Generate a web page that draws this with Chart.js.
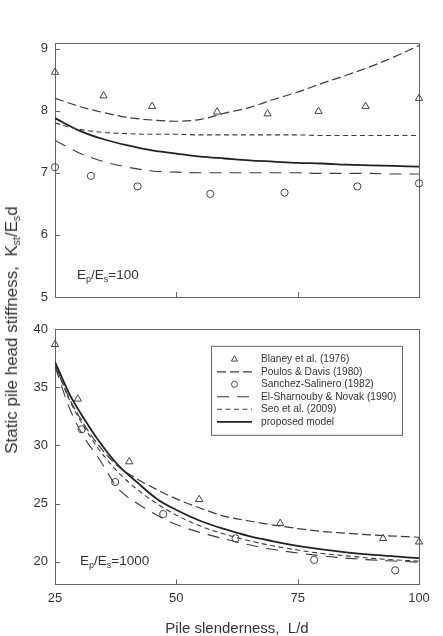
<!DOCTYPE html>
<html>
<head>
<meta charset="utf-8">
<script src="https://cdn.jsdelivr.net/npm/chart.js@4/dist/chart.umd.min.js"></script>
<style>
  html, body { margin:0; padding:0; background:#fff; }
  body { width:443px; height:636px; position:relative; overflow:hidden; font-family:"Liberation Sans", Arial, sans-serif; color:#333; }
  canvas { position:absolute; left:0; }
  #cTop { top:0; }
  #cBot { top:312px; }
  .lbl { position:absolute; font-size:13.5px; color:#333; white-space:nowrap; }
  .lbl sub { font-size:9px; vertical-align:-3px; line-height:0; }
  #ytitle { position:absolute; left:12px; top:330px; transform:translate(-50%,-50%) rotate(-90deg); font-size:17px; color:#333; white-space:nowrap; }
  #ytitle sub { font-size:10.5px; vertical-align:-3px; line-height:0; }
</style>
</head>
<body>
<canvas id="cTop" width="443" height="312"></canvas>
<canvas id="cBot" width="443" height="324"></canvas>
<div class="lbl" style="left:77px; top:267px;">E<sub>p</sub>/E<sub>s</sub>=100</div>
<div class="lbl" style="left:80px; top:553px;">E<sub>p</sub>/E<sub>s</sub>=1000</div>
<div id="ytitle">Static pile head stiffness,&nbsp; K<sub>st</sub>/E<sub>s</sub>d</div>
<script>
// ---------- data ----------
const xTicks = [25, 50, 75, 100];
const topYTicks = [5, 6, 7, 8, 9];
const botYTicks = [20, 25, 30, 35, 40];

const seriesLabels = ["Blaney et al. (1976)", "Poulos & Davis (1980)", "Sanchez-Salinero (1982)", "El-Sharnouby & Novak (1990)", "Seo et al. (2009)", "proposed model"];

// Ep/Es = 100
const topBlaneyX  = [25, 35, 45, 58.4, 68.8, 79.3, 89, 100];
const topBlaneyY  = [8.62, 8.24, 8.07, 7.98, 7.95, 7.99, 8.07, 8.20];
const topSanchezX = [25, 32.4, 42, 57, 72.3, 87.3, 100];
const topSanchezY = [7.09, 6.95, 6.78, 6.66, 6.68, 6.78, 6.83];
const topCurveX   = [25, 30, 35, 40, 45, 50, 55, 60, 65, 70, 75, 80, 85, 90, 95, 100];
const topPoulos   = [8.20, 8.07, 7.97, 7.89, 7.85, 7.83, 7.86, 7.96, 8.05, 8.18, 8.30, 8.44, 8.57, 8.71, 8.87, 9.05];
const topElSh     = [7.52, 7.32, 7.18, 7.09, 7.03, 7.01, 7.00, 7.00, 7.00, 7.00, 7.00, 6.99, 6.99, 6.99, 6.98, 6.98];
const topSeo      = [7.80, 7.70, 7.65, 7.63, 7.62, 7.62, 7.61, 7.61, 7.61, 7.61, 7.61, 7.60, 7.60, 7.60, 7.60, 7.60];
const topProposed = [7.88, 7.68, 7.54, 7.44, 7.36, 7.31, 7.26, 7.23, 7.20, 7.18, 7.16, 7.15, 7.13, 7.12, 7.11, 7.10];

// Ep/Es = 1000
const botBlaneyX  = [25, 29.7, 40.3, 54.7, 71.4, 92.6, 100];
const botBlaneyY  = [38.7, 34.0, 28.6, 25.35, 23.3, 22.0, 21.7];
const botSanchezX = [30.5, 37.4, 47.3, 62.2, 78.4, 95.1];
const botSanchezY = [31.4, 26.85, 24.1, 22.0, 20.15, 19.25];
const botCurveX   = [25, 28, 31, 34, 38, 42, 46, 50, 55, 60, 65, 70, 75, 80, 85, 90, 95, 100];
const botPoulos   = [36.9, 34.0, 31.8, 30.0, 28.2, 27.1, 26.2, 25.4, 24.6, 23.9, 23.5, 23.15, 22.85, 22.6, 22.45, 22.3, 22.2, 22.1];
const botElSh     = [36.8, 33.2, 30.7, 28.9, 26.3, 25.0, 24.0, 23.2, 22.5, 21.95, 21.45, 21.05, 20.75, 20.5, 20.3, 20.15, 20.05, 19.95];
const botSeo      = [37.0, 33.9, 31.6, 29.7, 27.7, 26.2, 25.0, 24.0, 23.05, 22.35, 21.8, 21.35, 21.0, 20.7, 20.5, 20.3, 20.15, 20.05];
const botProposed = [37.2, 34.4, 32.3, 30.4, 28.3, 26.8, 25.4, 24.45, 23.5, 22.8, 22.2, 21.75, 21.35, 21.05, 20.8, 20.6, 20.45, 20.3];

// ---------- helpers ----------
const zip = (xs, ys) => xs.map((x, i) => ({ x: x, y: ys[i] }));
const LINE = '#3a3a3a';
const styles = [
  { kind: 'pt', pointStyle: 'triangle', radius: 4.2 },
  { kind: 'ln', dash: [9, 4], width: 1.2 },
  { kind: 'pt', pointStyle: 'circle', radius: 3.6 },
  { kind: 'ln', dash: [12, 8], width: 1.1 },
  { kind: 'ln', dash: [5, 3.5], width: 1.1 },
  { kind: 'ln', dash: [], width: 1.8 }
];

function makeDatasets(sets) {
  return sets.map((d, i) => {
    const s = styles[i];
    if (s.kind === 'pt') {
      return { label: seriesLabels[i], data: d, showLine: false, clip: false,
        pointStyle: s.pointStyle, pointRadius: s.radius, pointBackgroundColor: 'rgba(255,255,255,0)',
        pointBorderColor: '#444', pointBorderWidth: 1, borderColor: '#444', order: 0 };
    }
    return { label: seriesLabels[i], data: d, showLine: true, pointRadius: 0,
      borderColor: i === 5 ? '#222' : LINE, borderWidth: s.width, borderDash: s.dash,
      cubicInterpolationMode: 'monotone', fill: false, order: 1 };
  });
}

const frame = {
  id: 'frame',
  beforeDatasetsDraw(chart) {
    const { ctx, chartArea: a, scales } = chart;
    ctx.save();
    ctx.strokeStyle = '#666';
    ctx.lineWidth = 1;
    ctx.strokeRect(Math.round(a.left) + 0.5, Math.round(a.top) + 0.5, Math.round(a.right - a.left), Math.round(a.bottom - a.top));
    ctx.beginPath();
    scales.x.ticks.forEach(t => {
      const p = Math.round(scales.x.getPixelForValue(t.value)) + 0.5;
      ctx.moveTo(p, a.bottom); ctx.lineTo(p, a.bottom - 5);
    });
    scales.y.ticks.forEach(t => {
      const p = Math.round(scales.y.getPixelForValue(t.value)) + 0.5;
      ctx.moveTo(a.left, p); ctx.lineTo(a.left + 5, p);
    });
    ctx.stroke();
    ctx.restore();
  }
};

const legendBox = {
  id: 'legendBox',
  afterDatasetsDraw(chart) {
    const { ctx, chartArea: a } = chart;
    const left = 211, top = a.top + 16.5, w = 191, h = 89;
    ctx.save();
    ctx.fillStyle = '#fff';
    ctx.fillRect(left, top, w, h);
    ctx.strokeStyle = '#666';
    ctx.lineWidth = 1;
    ctx.strokeRect(left + 0.5, top + 0.5, w, h);
    ctx.font = '10.2px "Liberation Sans", Arial, sans-serif';
    ctx.textBaseline = 'middle';
    chart.data.datasets.forEach((ds, i) => {
      const y = top + 13.5 + i * 12.5;
      const s = styles[i];
      ctx.strokeStyle = '#444';
      if (s.kind === 'pt') {
        ctx.lineWidth = 1;
        ctx.setLineDash([]);
        ctx.fillStyle = 'rgba(255,255,255,0)';
        Chart.helpers.drawPoint(ctx, { pointStyle: s.pointStyle, radius: s.radius - 0.6, borderWidth: 1, rotation: 0 }, 234.5, y);
      } else {
        ctx.lineWidth = s.width;
        ctx.setLineDash(s.dash);
        ctx.strokeStyle = ds.borderColor;
        ctx.beginPath();
        ctx.moveTo(217, y); ctx.lineTo(252, y);
        ctx.stroke();
      }
      ctx.setLineDash([]);
      ctx.fillStyle = '#333';
      ctx.fillText(ds.label, 261, y);
    });
    ctx.restore();
  }
};

const tickFont = { family: '"Liberation Sans", Arial, sans-serif', size: 13 };

function fixedTicks(arr) {
  return function (scale) { scale.ticks = arr.map(v => ({ value: v })); };
}

// ---------- top chart ----------
new Chart(document.getElementById('cTop'), {
  type: 'line',
  data: { datasets: makeDatasets([
    zip(topBlaneyX, topBlaneyY), zip(topCurveX, topPoulos), zip(topSanchezX, topSanchezY),
    zip(topCurveX, topElSh), zip(topCurveX, topSeo), zip(topCurveX, topProposed)
  ]) },
  options: {
    responsive: false, animation: false, devicePixelRatio: 1,
    layout: { padding: { left: 0, right: 24, top: 43, bottom: 15 } },
    plugins: { legend: { display: false }, tooltip: { enabled: false } },
    scales: {
      x: { type: 'linear', min: 25, max: 100, afterBuildTicks: fixedTicks(xTicks),
        grid: { display: false, drawTicks: false }, border: { display: false },
        ticks: { display: false }, afterFit: s => { s.height = 0; } },
      y: { type: 'linear', min: 5, max: 9.09, afterBuildTicks: fixedTicks(topYTicks),
        grid: { display: false, drawTicks: false }, border: { display: false },
        ticks: { color: '#333', font: tickFont, padding: 7 }, afterFit: s => { s.width = 55; } }
    }
  },
  plugins: [frame]
});

// ---------- bottom chart ----------
new Chart(document.getElementById('cBot'), {
  type: 'line',
  data: { datasets: makeDatasets([
    zip(botBlaneyX, botBlaneyY), zip(botCurveX, botPoulos), zip(botSanchezX, botSanchezY),
    zip(botCurveX, botElSh), zip(botCurveX, botSeo), zip(botCurveX, botProposed)
  ]) },
  options: {
    responsive: false, animation: false, devicePixelRatio: 1,
    layout: { padding: { left: 0, right: 24, top: 17.3, bottom: 0 } },
    plugins: { legend: { display: false }, tooltip: { enabled: false } },
    scales: {
      x: { type: 'linear', min: 25, max: 100, afterBuildTicks: fixedTicks(xTicks),
        grid: { display: false, drawTicks: false }, border: { display: false },
        ticks: { color: '#333', font: tickFont, padding: 6, maxRotation: 0 },
        title: { display: true, text: 'Pile slenderness,  L/d', color: '#333',
          font: { family: '"Liberation Sans", Arial, sans-serif', size: 15 }, padding: { top: 0, bottom: -2 } },
        afterFit: s => { s.height = 51.7; } },
      y: { type: 'linear', min: 18.05, max: 40, afterBuildTicks: fixedTicks(botYTicks),
        grid: { display: false, drawTicks: false }, border: { display: false },
        ticks: { color: '#333', font: tickFont, padding: 7 }, afterFit: s => { s.width = 55; } }
    }
  },
  plugins: [frame, legendBox]
});
</script>
</body>
</html>
